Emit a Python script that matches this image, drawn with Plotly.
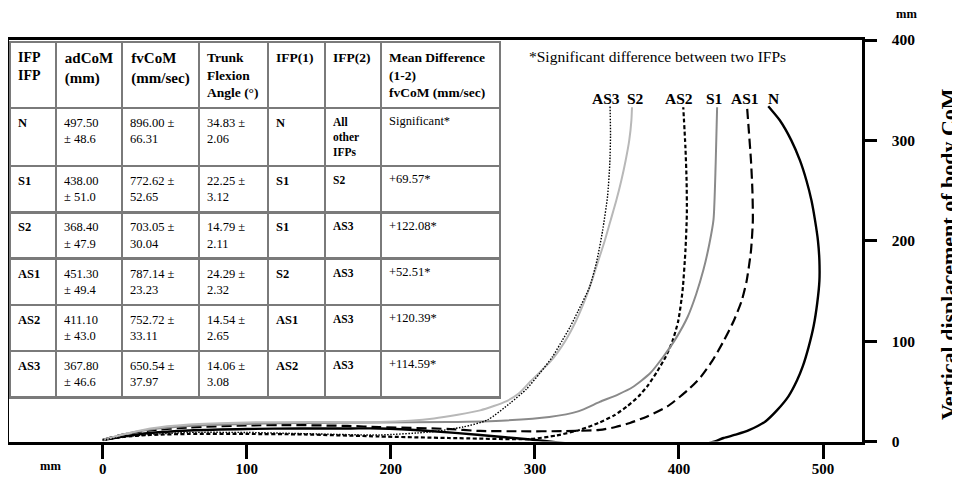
import plotly.graph_objects as go

# ---------------- data ----------------
ifp = ["N", "S1", "S2", "AS1", "AS2", "AS3"]
adcom_mean = [497.50, 438.00, 368.40, 451.30, 411.10, 367.80]
adcom_sd = [48.6, 51.0, 47.9, 49.4, 43.0, 46.6]
fvcom_mean = [896.00, 772.62, 703.05, 787.14, 752.72, 650.54]
fvcom_sd = [66.31, 52.65, 30.04, 23.23, 33.11, 37.97]
trunk_mean = [34.83, 22.25, 14.79, 24.29, 14.54, 14.06]
trunk_sd = [2.06, 3.12, 2.11, 2.32, 2.65, 3.08]
ifp1 = ["N", "S1", "S1", "S2", "AS1", "AS2"]
ifp2 = ["All<br>other<br>IFPs", "S2", "AS3", "AS3", "AS3", "AS3"]
mean_diff = ["Significant*", "+69.57*", "+122.08*", "+52.51*", "+120.39*", "+114.59*"]

headers = ["IFP<br>IFP", "adCoM<br>(mm)", "fvCoM<br>(mm/sec)", "Trunk<br>Flexion<br>Angle (°)",
           "IFP(1)", "IFP(2)", "Mean Difference<br>(1-2)<br>fvCoM (mm/sec)"]

# trajectories of body CoM: horizontal (mm) and vertical (mm) displacement
n_x = [0, 14, 33, 60, 100, 137, 172, 192, 227, 262, 297, 330, 360, 385, 405, 418, 425, 431, 440, 449, 460, 468, 476, 482, 486, 490, 493.5, 496, 497.5, 497.5, 496.5, 494.5, 492, 488.5, 484, 478, 470, 462]
n_y = [1.5, 5, 8.5, 11, 12.5, 13, 13, 13, 10.5, 6.5, 2, -3, -5.5, -6, -5, -2.5, 0, 3.5, 7, 11.5, 20, 31, 45, 61, 75, 94, 115, 138, 160, 180, 200, 220, 240, 260, 280, 300, 320, 334]

as1_x = [0, 14, 33, 60, 100, 130, 170, 192, 239, 262, 290, 320, 345, 356, 366, 378, 392, 406, 415, 423, 431, 438, 443.5, 447, 450, 451.3, 451, 450, 448.5, 447.3]
as1_y = [1.5, 7, 11, 14, 16, 16.4, 15.5, 14.4, 12.5, 10.5, 10.2, 10.3, 11.5, 14.4, 18.5, 25, 35, 51, 64, 80, 100, 120, 140, 160, 190, 220, 250, 280, 310, 333]

as2_x = [0, 14, 33, 60, 100, 140, 192, 240, 297, 315, 331, 344, 355, 364, 372, 378.5, 385, 391, 395.5, 399.5, 402.5, 404.5, 405.5, 405.3, 404.5, 403]
as2_y = [1.5, 4.5, 6.5, 7.5, 7.5, 7, 5, 3.5, 2.5, 6, 11.5, 18.4, 26, 35, 45, 56, 70, 85, 100, 120, 150, 190, 227, 260, 293, 333]

s1_x = [0, 14, 33, 60, 100, 140, 190, 240, 280, 310, 330, 345, 358, 368, 380, 389, 398, 406, 412, 417, 421, 424, 425.5, 426.5]
s1_y = [1.5, 7, 12, 15.5, 17.5, 18.5, 19, 19.4, 21, 24.4, 30, 39.4, 47, 54.3, 68, 84.2, 103, 124, 147, 171, 196, 221, 277, 333]

s2_x = [0, 14, 33, 60, 100, 140, 192, 230, 262, 280, 289, 297, 311, 321, 328.5, 334.5, 339.5, 344, 348.5, 352.5, 356.5, 360, 363, 365.5, 367, 367.4]
s2_y = [1.5, 7, 13, 17, 19, 19.4, 19.4, 23, 31, 40, 48, 60, 80, 100, 120, 140, 160, 180, 200, 220, 240, 260, 280, 300, 320, 333]

as3_x = [0, 14, 33, 60, 100, 150, 192, 227, 250, 267, 283, 294, 303.5, 312, 319, 324.4, 330, 338, 343, 347, 350.5, 352, 352.5, 352.2]
as3_y = [1.5, 4.5, 7, 9, 9, 7.5, 6.5, 9.5, 14.4, 21.4, 38.4, 52, 68.2, 84, 100.6, 114, 130, 154, 180, 210, 245, 277, 305, 334]

curve_labels = ["AS3", "S2", "AS2", "S1", "AS1", "N"]
curve_label_x = [349.6, 369.5, 400, 424.4, 445.9, 465.3]
curve_label_y = 342

x_ticks = [0, 100, 200, 300, 400, 500]
y_ticks = [0, 100, 200, 300, 400]

# ---------------- figure ----------------
# the page body has an 8px margin, so the figure is drawn 8px in from the top-left
OFF = 8
W, H = 960 - OFF, 479 - OFF
FONT = "Liberation Serif, Times New Roman, serif"


def px(xp):
    return (xp - OFF) / W


def py(yp):
    return (479 - yp) / H


fig = go.Figure()

series = [
    (n_x, n_y, dict(color="black", width=2.4)),
    (as1_x, as1_y, dict(color="black", width=2.2, dash="10px,5px")),
    (as2_x, as2_y, dict(color="black", width=2.2, dash="4px,2.5px")),
    (s1_x, s1_y, dict(color="#8a8a8a", width=2.0)),
    (s2_x, s2_y, dict(color="#b8b8b8", width=2.0)),
    (as3_x, as3_y, dict(color="black", width=1.4, dash="1.5px,1.5px")),
]
for xs, ys, ln in series:
    ln = dict(ln, shape="spline", smoothing=0.6)
    fig.add_trace(go.Scatter(x=xs, y=ys, mode="lines", line=ln, hoverinfo="skip",
                             showlegend=False, cliponaxis=False))

# table
cells_cols = [
    ["<b>%s</b>" % v for v in ifp],
    ["%.2f<br>± %.1f" % (m, s) for m, s in zip(adcom_mean, adcom_sd)],
    ["%.2f ±<br>%.2f" % (m, s) for m, s in zip(fvcom_mean, fvcom_sd)],
    ["%.2f ±<br>%.2f" % (m, s) for m, s in zip(trunk_mean, trunk_sd)],
    ["<b>%s</b>" % v for v in ifp1],
    ["<b>%s</b>" % v for v in ifp2],
    mean_diff,
]
fig.add_trace(go.Table(
    domain=dict(x=[px(10), px(500)], y=[py(420), py(42)]),
    columnwidth=[46, 66, 77, 69, 57, 56, 119],
    header=dict(values=["<b>%s</b>" % h for h in headers],
                align=["left", "center", "center", "left", "left", "left", "left"],
                font=dict(family=FONT, size=[14, 15, 15, 13.5, 13.5, 13.5, 13.5], color="black"),
                fill_color="white", line=dict(color="#7a7a7a", width=2.5), height=66),
    cells=dict(values=cells_cols, align="left",
               font=dict(family=FONT, size=[12.5, 12.5, 12.5, 12.5, 12.5, 11.5, 12.5], color="black"),
               fill_color="white", line=dict(color="#7a7a7a", width=2.5), height=46),
))

# curve labels
for lab, lx in zip(curve_labels, curve_label_x):
    fig.add_annotation(x=lx, y=curve_label_y, xref="x", yref="y", text="<b>%s</b>" % lab,
                       xanchor="center", yanchor="middle",
                       showarrow=False, font=dict(family=FONT, size=15.5, color="black"))

fig.add_annotation(x=px(527), y=py(57), xref="paper", yref="paper", xanchor="left", yanchor="middle",
                   text="*Significant difference between two IFPs", showarrow=False,
                   font=dict(family=FONT, size=15.5, color="black"))
fig.add_annotation(x=px(50), y=py(466), xref="paper", yref="paper", xanchor="center", yanchor="middle",
                   text="<b>mm</b>", showarrow=False, font=dict(family=FONT, size=12.5, color="black"))
fig.add_annotation(x=px(906), y=py(14), xref="paper", yref="paper", xanchor="center", yanchor="middle",
                   text="<b>mm</b>", showarrow=False, font=dict(family=FONT, size=12.5, color="black"))
fig.add_annotation(x=px(948), y=py(254), xref="paper", yref="paper", textangle=-90,
                   xanchor="center", yanchor="middle",
                   text="<b>Vertical displacement of body CoM</b>", showarrow=False,
                   font=dict(family=FONT, size=22, color="black"))

x0px, x1px = 8.5, 861.7
zero_px, xpp = 102.7, 1.4406
fig.update_layout(
    width=W, height=H, autosize=False,
    margin=dict(l=0, r=0, t=0, b=0, autoexpand=False),
    paper_bgcolor="white", plot_bgcolor="white",
    showlegend=False,
    xaxis=dict(domain=[px(x0px), px(x1px)], automargin=False,
               range=[(x0px - zero_px) / xpp, (x1px - zero_px) / xpp],
               tickvals=x_ticks, ticks="outside", ticklen=14, tickwidth=2.5, tickcolor="black",
               showline=True, linewidth=3, linecolor="black", mirror=True,
               showgrid=False, zeroline=False, ticklabelstandoff=-3,
               tickfont=dict(family=FONT, size=15, color="black", weight="bold")),
    yaxis=dict(domain=[py(441.5), py(40)], range=[0, 400], side="right",
               automargin=False,
               tickvals=y_ticks, ticks="outside", ticklen=12, tickwidth=3, tickcolor="black",
               showline=True, linewidth=3, linecolor="black", mirror=True,
               showgrid=False, zeroline=False, ticklabelstandoff=12,
               tickfont=dict(family=FONT, size=15.5, color="black", weight="bold")),
)

fig.write_html("out.html")
